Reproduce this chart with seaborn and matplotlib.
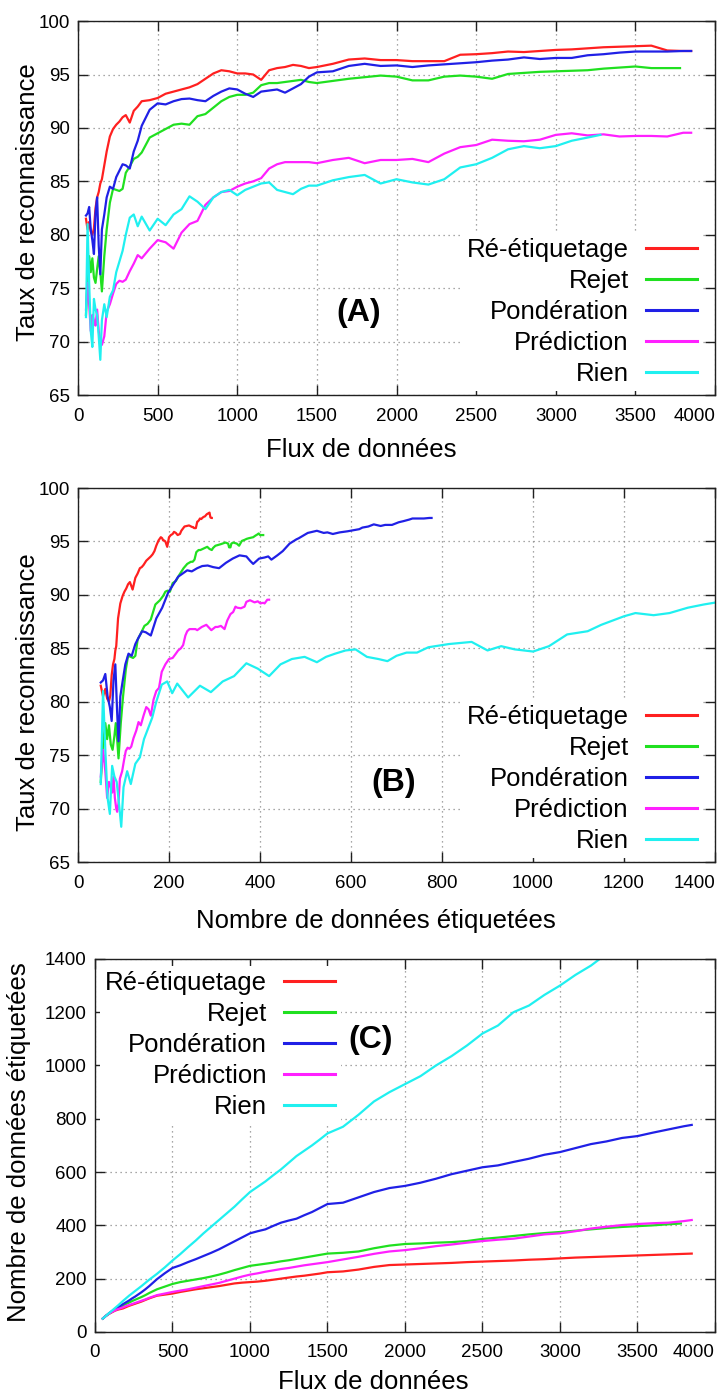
import numpy as np
import pandas as pd
import matplotlib
matplotlib.use("Agg")
import matplotlib.pyplot as plt
import seaborn as sns

# ---------------- data ----------------
SERIES = ["Ré-étiquetage", "Rejet", "Pondération", "Prédiction", "Rien"]
COLORS = ["#ff2020", "#20e020", "#2020e6", "#ff20ff", "#20f0f0"]

FLUX = [50, 60, 70, 80, 90, 100, 110, 120, 130, 140, 150, 165, 180,
        200, 220, 240, 260, 280, 300,
        325, 350, 375, 400,
        450, 500, 550, 600, 650, 700, 750, 800, 850, 900, 950, 1000, 1050,
        1100, 1150, 1200, 1250, 1300, 1350, 1400, 1450, 1500,
        1600, 1700, 1800, 1900, 2000, 2100, 2200, 2300, 2400, 2500, 2600,
        2700, 2800, 2900, 3000, 3100, 3200, 3300, 3400, 3500, 3600, 3700, 3800]

FLUX_REETIQ = FLUX + [3850]
FLUX_REJET = FLUX[:-1] + [3780]
FLUX_POND = FLUX + [3850]
FLUX_PRED = FLUX + [3850]
FLUX_RIEN = FLUX[:FLUX.index(3200) + 1] + [3280]

# recognition rate (%)
ACC_REETIQ = [81.5, 80.5, 81.2, 80.3, 80.0, 80.6, 82.5, 83.5, 84.0, 84.8, 85.2, 86.5, 87.8,
              89.2, 89.9, 90.3, 90.6, 91.0, 91.2,
              90.5, 91.6, 92.0, 92.5,
              92.6, 92.8, 93.2, 93.4, 93.6, 93.8, 94.1, 94.6, 95.1, 95.4, 95.3, 95.1, 95.1,
              95.0, 94.5, 95.4, 95.6, 95.7, 95.9, 95.8, 95.6, 95.7,
              96.0, 96.4, 96.5, 96.35, 96.35, 96.25, 96.25, 96.25, 96.85, 96.9, 97.0,
              97.15, 97.1, 97.2, 97.3, 97.35, 97.45, 97.55, 97.6, 97.65, 97.7, 97.25, 97.2,
              97.2]
ACC_REJET = [72.5, 76.0, 78.0, 76.5, 77.8, 76.0, 75.5, 76.8, 78.0, 76.5, 74.7, 78.0, 80.5,
             83.0, 84.3, 84.2, 84.1, 84.3, 85.8,
             86.4, 87.1, 87.3, 87.7,
             89.1, 89.5, 89.9, 90.3, 90.4, 90.3, 91.1, 91.3, 91.9, 92.5, 92.9, 93.1, 93.1,
             93.3, 94.0, 94.2, 94.2, 94.3, 94.4, 94.5, 94.3, 94.2,
             94.4, 94.6, 94.75, 94.9, 94.8, 94.45, 94.45, 94.8, 94.9, 94.8, 94.6,
             95.05, 95.15, 95.25, 95.3, 95.35, 95.4, 95.55, 95.65, 95.75, 95.6, 95.6,
             95.6]
ACC_POND = [81.8, 82.0, 82.6, 80.5, 79.5, 78.2, 82.0, 83.5, 79.0, 76.3, 80.5, 81.9, 83.5,
            84.5, 84.3, 85.4, 86.0, 86.6, 86.5,
            86.2, 87.8, 88.8, 90.2,
            91.7, 92.3, 92.2, 92.5, 92.7, 92.75, 92.6, 92.5, 93.0, 93.4, 93.7, 93.6, 93.2,
            92.9, 93.4, 93.5, 93.6, 93.3, 93.7, 94.1, 94.8, 95.2,
            95.3, 95.8, 96.0, 95.8, 95.85, 95.7, 95.85, 95.95, 96.05, 96.15, 96.3,
            96.4, 96.6, 96.45, 96.55, 96.55, 96.8, 96.9, 97.05, 97.15, 97.15, 97.15, 97.2,
            97.2]
ACC_PRED = [73.0, 75.5, 73.5, 71.0, 72.5, 72.0, 71.5, 73.0, 71.0, 70.0, 69.7, 70.5, 72.8,
            73.5, 74.5, 75.4, 75.7, 75.6, 75.8,
            76.6, 77.3, 78.1, 77.8,
            78.7, 79.5, 79.3, 78.7, 80.2, 81.0, 81.3, 82.8, 83.5, 84.0, 84.1, 84.5, 84.8,
            85.0, 85.3, 86.2, 86.6, 86.8, 86.8, 86.8, 86.8, 86.7,
            87.0, 87.2, 86.7, 87.0, 87.0, 87.1, 86.8, 87.6, 88.2, 88.4, 88.9,
            88.8, 88.75, 88.9, 89.35, 89.5, 89.3, 89.4, 89.2, 89.25, 89.25, 89.2, 89.55,
            89.55]
ACC_RIEN = [72.3, 81.0, 75.5, 71.0, 69.5, 74.0, 73.0, 72.5, 70.5, 68.3, 72.0, 73.5, 72.3,
            74.2, 74.8, 76.5, 77.5, 78.5, 80.0,
            81.6, 81.9, 80.8, 81.7,
            80.4, 81.5, 80.9, 81.9, 82.4, 83.6, 83.1, 82.4, 83.5, 84.0, 84.2, 83.7, 84.2,
            84.5, 84.8, 84.9, 84.2, 84.0, 83.8, 84.3, 84.6, 84.6,
            85.1, 85.4, 85.6, 84.8, 85.2, 84.9, 84.7, 85.2, 86.3, 86.6, 87.2,
            88.0, 88.3, 88.1, 88.3, 88.8, 89.1,
            89.35]

# number of labelled data
NB_REETIQ = [50, 55, 60, 64, 68, 71, 74, 77, 80, 82, 84, 86, 88,
             93, 98, 102, 106, 110, 114,
             120, 126, 131, 136,
             140, 144, 150, 155, 160, 164, 168, 172, 177, 182, 185, 187, 189,
             192, 196, 200, 204, 208, 211, 215, 219, 224,
             227, 234, 244, 251, 253, 255, 257, 259, 262, 264, 266,
             268, 271, 273, 276, 279, 281, 283, 285, 287, 289, 291, 293,
             294]
NB_REJET = [50, 55, 60, 64, 68, 72, 76, 80, 83, 86, 89, 94, 99,
            105, 110, 116, 121, 126, 131,
            138, 146, 153, 160,
            170, 180, 187, 192, 197, 202, 208, 215, 223, 232, 240, 248, 252,
            256, 260, 265, 269, 274, 279, 284, 289, 294,
            297, 302, 314, 324, 330, 332, 335, 337, 341, 349, 354,
            360, 366, 371, 375, 380, 385, 390, 394, 397, 400, 404,
            407]
NB_POND = [50, 55, 60, 65, 70, 74, 78, 82, 86, 89, 93, 98, 104,
           111, 118, 126, 133, 141, 149,
           160, 172, 185, 198,
           220, 240, 250, 262, 273, 285, 297, 310, 325, 340, 355, 370, 378,
           385, 398, 410, 418, 425, 438, 450, 465, 480,
           485, 505, 525, 540, 548, 560, 575, 592, 605, 618, 625,
           638, 650, 665, 675, 690, 705, 715, 728, 735, 748, 760, 772,
           777]
NB_PRED = [50, 55, 60, 64, 68, 72, 75, 78, 81, 84, 86, 89, 92,
           97, 101, 105, 109, 113, 117,
           122, 128, 133, 138,
           144, 150, 155, 160, 166, 172, 178, 184, 192, 200, 208, 215, 220,
           226, 231, 236, 240, 245, 250, 254, 258, 262,
           272, 282, 293, 302, 307, 314, 322, 328, 335, 341, 346,
           350, 358, 366, 370, 378, 388, 395, 401, 405, 408, 410, 416,
           420]
NB_RIEN = [50, 55, 60, 65, 70, 75, 80, 85, 90, 95, 100, 108, 116,
           126, 136, 145, 154, 163, 172,
           184, 196, 207, 218,
           242, 268, 292, 318, 343, 370, 395, 420, 445, 470, 498, 525, 545,
           565, 588, 610, 635, 660, 680, 700, 722, 745,
           770, 815, 865, 900, 930, 960, 1000, 1035, 1075, 1120, 1150,
           1200, 1225, 1265, 1300, 1340, 1375,
           1410]

FLUX_TICKS = [0, 500, 1000, 1500, 2000, 2500, 3000, 3500, 4000]
ACC_TICKS = [65, 70, 75, 80, 85, 90, 95, 100]
NB_TICKS_B = [0, 200, 400, 600, 800, 1000, 1200, 1400]
NB_TICKS_C = [0, 200, 400, 600, 800, 1000, 1200, 1400]

# --------------- table ---------------
frames = []
for name, fx, ac, nb in zip(SERIES,
                            [FLUX_REETIQ, FLUX_REJET, FLUX_POND, FLUX_PRED, FLUX_RIEN],
                            [ACC_REETIQ, ACC_REJET, ACC_POND, ACC_PRED, ACC_RIEN],
                            [NB_REETIQ, NB_REJET, NB_POND, NB_PRED, NB_RIEN]):
    frames.append(pd.DataFrame({"serie": name, "flux": fx, "acc": ac, "nb": nb}))
df = pd.concat(frames, ignore_index=True)

# --------------- style ---------------
plt.rcParams.update({
    "font.family": ["Liberation Sans", "DejaVu Sans"],
    "axes.linewidth": 1.0,
    "axes.edgecolor": "#202020",
    "xtick.direction": "in",
    "ytick.direction": "in",
    "xtick.top": True,
    "ytick.right": True,
})
palette = dict(zip(SERIES, COLORS))

fig = plt.figure(figsize=(7.19, 13.96), dpi=100)
axA = fig.add_axes([0.1085, 0.7170, 0.886, 0.2679])
axB = fig.add_axes([0.1085, 0.3825, 0.886, 0.2679])
axC = fig.add_axes([0.1321, 0.0459, 0.8623, 0.2672])

specs = [
    (axA, "flux", "acc", (0, 4000), (65, 100), FLUX_TICKS, ACC_TICKS,
     "Flux de données", "Taux de reconnaissance"),
    (axB, "nb", "acc", (0, 1400), (65, 100), NB_TICKS_B, ACC_TICKS,
     "Nombre de données étiquetées", "Taux de reconnaissance"),
    (axC, "flux", "nb", (0, 4000), (0, 1400), FLUX_TICKS, NB_TICKS_C,
     "Flux de données", "Nombre de données étiquetées"),
]

LEG_KW = dict(markerfirst=False, fontsize=18.5, handlelength=2.0,
              handletextpad=0.66, labelspacing=0.27, borderpad=0.2,
              borderaxespad=0, frameon=True, fancybox=False,
              framealpha=1, facecolor="white", edgecolor="none")

for ax, xc, yc, xl, yl, xt, yt, xlab, ylab in specs:
    sns.lineplot(data=df, x=xc, y=yc, hue="serie", hue_order=SERIES, palette=palette,
                 sort=False, estimator=None, linewidth=1.6, ax=ax, legend="full")
    ax.set_xlim(*xl)
    ax.set_ylim(*yl)
    ax.set_xticks(xt)
    ax.set_yticks(yt)
    ax.grid(True, linestyle=(0, (1, 3)), color="#8a8a8a", linewidth=0.9)
    ax.set_axisbelow(True)
    ax.tick_params(axis="both", labelsize=13.5, length=7, width=1, color="#202020")
    ax.tick_params(axis="x", pad=9)
    ax.tick_params(axis="y", pad=6)
    labels = ax.get_xticklabels()
    labels[-1].set_horizontalalignment("right")
    ax.set_xlabel(xlab, fontsize=18.5)
    ax.set_ylabel(ylab, fontsize=18.5)
    leg = ax.get_legend()
    handles = leg.legend_handles
    texts = [t.get_text() for t in leg.get_texts()]
    leg.remove()
    if ax is axC:
        newleg = ax.legend(handles, texts, loc="upper left",
                           bbox_to_anchor=(0.008, 0.982), **LEG_KW)
    else:
        newleg = ax.legend(handles, texts, loc="lower right",
                           bbox_to_anchor=(0.98, 0.011), **LEG_KW)
    for h in newleg.legend_handles:
        h.set_linewidth(2.2)

axA.xaxis.set_label_coords(0.445, -0.115)
axA.yaxis.set_label_coords(-0.06, 0.515)
axB.xaxis.set_label_coords(0.467, -0.125)
axB.yaxis.set_label_coords(-0.06, 0.455)
axC.xaxis.set_label_coords(0.449, -0.103)
axC.yaxis.set_label_coords(-0.103, 0.51)

axA.text(0.44, 0.219, "(A)", transform=axA.transAxes, fontsize=23, fontweight="bold",
         ha="center", va="center")
axB.text(0.495, 0.211, "(B)", transform=axB.transAxes, fontsize=23, fontweight="bold",
         ha="center", va="center")
axC.text(0.445, 0.783, "(C)", transform=axC.transAxes, fontsize=23, fontweight="bold",
         ha="center", va="center")

fig.savefig("out.png", dpi=100, facecolor="white")
